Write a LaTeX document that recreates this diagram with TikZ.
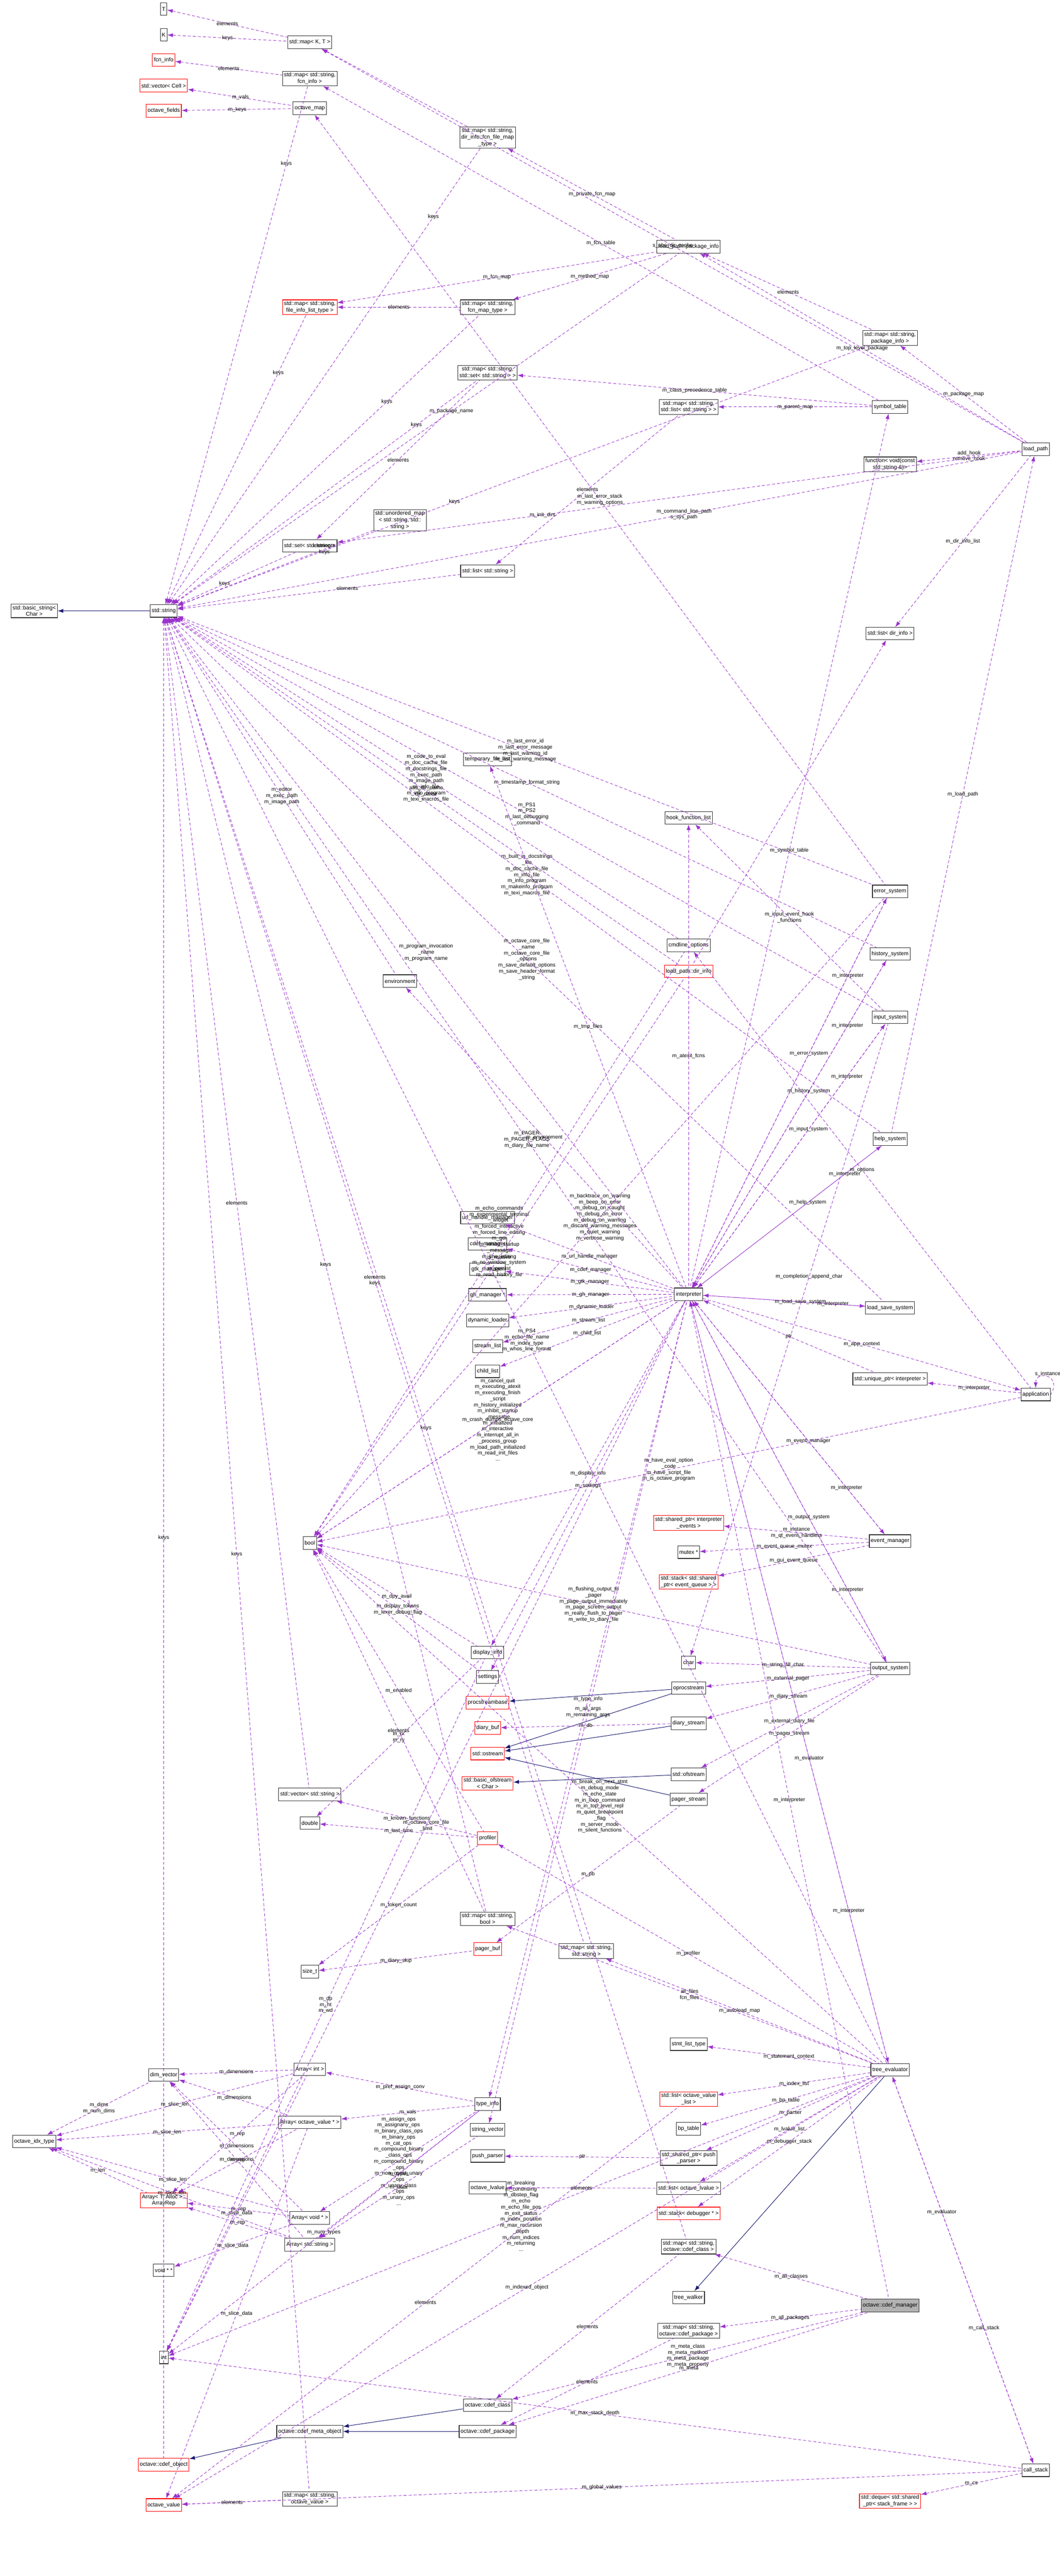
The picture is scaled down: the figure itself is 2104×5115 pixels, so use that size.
\documentclass[tikz,border=0pt]{standalone}
\usepackage{fontspec}
\setmainfont{Liberation Sans}
\usetikzlibrary{arrows.meta}
\definecolor{rel}{HTML}{9A32CD}
\definecolor{inh}{HTML}{191970}
\newcommand\myedge[4][0.5]{\draw[rel] (#2) -- node[lbl,pos=#1]{#4} (#3);}
\newcommand\myinh[2]{\draw[inh] (#1) -- (#2);}
\begin{document}
\begin{tikzpicture}[x=1pt,y=-1pt,
  box/.style={draw=black!80,line width=1.1pt,fill=white,font=\fontsize{11}{13}\selectfont,inner sep=3pt,minimum height=25pt,align=center},
  redbox/.style={box,draw=red},
  graybox/.style={box,fill=black!30},
  rel/.style={draw=rel,dash pattern=on 6pt off 4pt,line width=0.9pt,{Latex[length=11pt,width=8pt]}-},
  inh/.style={draw=inh,line width=1pt,{Latex[length=11pt,width=8pt]}-},
  lbl/.style={font=\fontsize{10.5}{12}\selectfont,align=center,inner sep=1pt}]
\useasboundingbox[fill=white] (0,0) rectangle (2104,5115);
% nodes
\node[box] (T) at (325,18) {T};
\node[box] (K) at (325,69) {K};
\node[box] (mapKT) at (615,84) {std::map< K, T >};
\node[redbox] (fcninfo) at (325,119) {fcn\_info};
\node[redbox] (vecCell) at (325,170) {std::vector< Cell >};
\node[redbox] (fields) at (325,220) {octave\_fields};
\node[box] (mapfcninfo) at (615,156) {std::map< std::string,\\fcn\_info >};
\node[box] (octmap) at (615,215) {octave\_map};
\node[box] (mapdirinfo) at (968,273) {std::map< std::string,\\dir\_info::fcn\_file\_map\\\_type >};
\node[redbox] (mapfileinfo) at (615,610) {std::map< std::string,\\file\_info\_list\_type >};
\node[box] (mapfcnmap) at (968,610) {std::map< std::string,\\fcn\_map\_type >};
\node[box] (mapset) at (968,740) {std::map< std::string,\\std::set< std::string > >};
\node[box] (unordered) at (794,1033) {std::unordered\_map\\< std::string, std::\\string >};
\node[box] (setstr) at (615,1084) {std::set< std::string >};
\node[box] (liststr) at (968,1134) {std::list< std::string >};
\node[box] (basicstr) at (68,1213) {std::basic\_string<\\Char >};
\node[box] (string) at (325,1213) {std::string};
\node[box] (pkginfo) at (1367,490) {load\_path::package\_info};
\node[box] (mappkg) at (1767,671) {std::map< std::string,\\package\_info >};
\node[box] (maplist) at (1367,808) {std::map< std::string,\\std::list< std::string > >};
\node[box] (symtab) at (1767,808) {symbol\_table};
\node[box] (loadpath) at (2056,892) {load\_path};
\node[box] (function) at (1767,922) {function< void(const\\std::string \&)>};
\node[box] (listdir) at (1767,1258) {std::list< dir\_info >};
\node[box] (tempfile) at (968,1508) {temporary\_file\_list};
\node[box] (env) at (794,1948) {environment};
\node[box] (url) at (968,2418) {url\_handle\_manager};
\node[box] (cdefmgr) at (968,2470) {cdef\_manager};
\node[box] (gtk) at (968,2520) {gtk\_manager};
\node[box] (gh) at (968,2571) {gh\_manager *};
\node[box] (dynload) at (968,2622) {dynamic\_loader};
\node[box] (streamlist) at (968,2673) {stream\_list};
\node[box] (childlist) at (968,2723) {child\_list};
\node[box] (hook) at (1367,1624) {hook\_function\_list};
\node[box] (cmdline) at (1367,1877) {cmdline\_options};
\node[redbox] (dirinfo) at (1367,1929) {load\_path::dir\_info};
\node[box] (errsys) at (1767,1770) {error\_system};
\node[box] (histsys) at (1767,1894) {history\_system};
\node[box] (inputsys) at (1767,2020) {input\_system};
\node[box] (helpsys) at (1767,2262) {help\_system};
\node[box] (interp) at (1367,2570) {interpreter};
\node[box] (loadsave) at (1767,2597) {load\_save\_system};
\node[box] (unique) at (1767,2738) {std::unique\_ptr< interpreter >};
\node[box] (app) at (2056,2769) {application};
\node[box] (bool) at (615,3064) {bool};
\node[redbox] (sharedev) at (1367,3024) {std::shared\_ptr< interpreter\\\_events >};
\node[box] (mutex) at (1367,3082) {mutex *};
\node[redbox] (stackev) at (1367,3141) {std::stack< std::shared\\\_ptr< event\_queue > >};
\node[box] (evmgr) at (1767,3060) {event\_manager};
\node[box] (char) at (1367,3301) {char};
\node[box] (outsys) at (1767,3313) {output\_system};
\node[box] (oproc) at (1367,3352) {oprocstream};
\node[box] (diarystream) at (1367,3422) {diary\_stream};
\node[box] (ofstream) at (1367,3523) {std::ofstream};
\node[box] (pagerstream) at (1367,3573) {pager\_stream};
\node[box] (dispinfo) at (968,3281) {display\_info};
\node[box] (settings) at (968,3330) {settings};
\node[redbox] (procbase) at (968,3381) {procstreambase};
\node[redbox] (diarybuf) at (968,3431) {diary\_buf};
\node[redbox] (ostream) at (968,3482) {std::ostream};
\node[redbox] (bofstream) at (968,3541) {std::basic\_ofstream\\< Char >};
\node[box] (vecstr) at (615,3563) {std::vector< std::string >};
\node[box] (double) at (615,3620) {double};
\node[redbox] (profiler) at (968,3650) {profiler};
\node[box] (mapbool) at (968,3810) {std::map< std::string,\\bool >};
\node[redbox] (pagerbuf) at (968,3870) {pager\_buf};
\node[box] (sizet) at (615,3915) {size\_t};
\node[box] (mapstrstr) at (1164,3874) {std::map< std::string,\\std::string >};
\node[box] (dimvec) at (325,4120) {dim\_vector};
\node[box] (arrint) at (615,4109) {Array< int >};
\node[box] (idx) at (68,4252) {octave\_idx\_type};
\node[box] (arrov) at (615,4214) {Array< octave\_value * >};
\node[box] (typeinfo) at (968,4178) {type\_info};
\node[box] (strvec) at (968,4229) {string\_vector};
\node[box] (pushparser) at (968,4281) {push\_parser};
\node[box] (lvalue) at (968,4344) {octave\_lvalue};
\node[redbox] (arrrep) at (325,4369) {Array< T, Alloc >::\\ArrayRep};
\node[box] (arrvoid) at (615,4404) {Array< void * >};
\node[box] (arrstr) at (615,4457) {Array< std::string >};
\node[box] (voidpp) at (325,4508) {void * *};
\node[box] (int) at (325,4681) {int};
\node[box] (cdefclass) at (968,4776) {octave::cdef\_class};
\node[box] (cdefmeta) at (615,4828) {octave::cdef\_meta\_object};
\node[box] (cdefpkg) at (968,4828) {octave::cdef\_package};
\node[redbox] (cdefobj) at (325,4894) {octave::cdef\_object};
\node[box] (mapoctval) at (615,4962) {std::map< std::string,\\octave\_value >};
\node[redbox] (octval) at (325,4974) {octave\_value};
\node[box] (stmtlist) at (1367,4059) {stmt\_list\_type};
\node[box] (treeeval) at (1767,4110) {tree\_evaluator};
\node[redbox] (listovl) at (1367,4168) {std::list< octave\_value\\\_list >};
\node[box] (bptable) at (1367,4227) {bp\_table};
\node[box] (sharedpush) at (1367,4285) {std::shared\_ptr< push\\\_parser >};
\node[box] (listlval) at (1367,4345) {std::list< octave\_lvalue >};
\node[redbox] (stackdbg) at (1367,4395) {std::stack< debugger * >};
\node[box] (mapcdefclass) at (1367,4461) {std::map< std::string,\\octave::cdef\_class >};
\node[box] (treewalker) at (1367,4562) {tree\_walker};
\node[graybox] (cdefmanager) at (1767,4578) {octave::cdef\_manager};
\node[box] (mapcdefpkg) at (1367,4628) {std::map< std::string,\\octave::cdef\_package >};
\node[box] (callstack) at (2056,4905) {call\_stack};
\node[redbox] (deque) at (1767,4966) {std::deque< std::shared\\\_ptr< stack\_frame > >};
% inheritance
\myinh{basicstr}{string}
\myinh{procbase}{oproc}
\myinh{ostream}{oproc}
\myinh{ostream}{diarystream}
\myinh{ostream}{pagerstream}
\myinh{bofstream}{ofstream}
\myinh{treewalker}{treeeval}
\myinh{cdefmeta}{cdefclass}
\myinh{cdefmeta}{cdefpkg}
\myinh{cdefobj}{cdefmeta}
% relations
\myedge{T}{mapKT}{elements}
\myedge{K}{mapKT}{keys}
\myedge{fcninfo}{mapfcninfo}{elements}
\myedge{vecCell}{octmap}{m\_vals}
\myedge{fields}{octmap}{m\_keys}
\myedge[0.85]{string}{mapfcninfo}{keys}
\myedge{mapKT}{mapdirinfo}{}
\myedge[0.85]{string}{mapdirinfo}{keys}
\myedge{mapfileinfo}{mapfcnmap}{elements}
\myedge[0.8]{string}{mapfileinfo}{keys}
\myedge[0.7]{string}{mapfcnmap}{keys}
\myedge[0.8]{string}{mapset}{keys}
\myedge{setstr}{mapset}{elements}
\myedge[0.75]{string}{unordered}{elements\\keys}
\myedge[0.4]{string}{setstr}{keys}
\myedge[0.6]{string}{liststr}{elements}
\myedge[0.55]{string}{pkginfo}{m\_package\_name}
\myedge{mapfileinfo}{pkginfo}{m\_fcn\_map}
\myedge{mapdirinfo}{pkginfo}{m\_private\_fcn\_map}
\myedge{mapfcnmap}{pkginfo}{m\_method\_map}
\myedge{mapKT}{loadpath}{s\_abs\_dir\_cache}
\myedge[0.6]{string}{loadpath}{m\_command\_line\_path\\s\_sys\_path}
\myedge{pkginfo}{loadpath}{m\_top\_level\_package}
\myedge{mappkg}{loadpath}{m\_package\_map}
\myedge{function}{loadpath}{add\_hook\\remove\_hook}
\myedge{listdir}{loadpath}{m\_dir\_info\_list}
\myedge[0.3]{setstr}{loadpath}{m\_init\_dirs}
\myedge{pkginfo}{mappkg}{elements}
\myedge[0.4]{string}{mappkg}{keys}
\myedge{maplist}{symtab}{m\_parent\_map}
\myedge{mapset}{symtab}{m\_class\_precedence\_table}
\myedge{mapfcninfo}{symtab}{m\_fcn\_table}
\myedge{liststr}{maplist}{elements}
\myedge{octmap}{errsys}{m\_last\_error\_stack\\m\_warning\_options}
\myedge{string}{errsys}{m\_last\_error\_id\\m\_last\_error\_message\\m\_last\_warning\_id\\m\_last\_warning\_message}
\myedge{bool}{errsys}{m\_backtrace\_on\_warning\\m\_beep\_on\_error\\m\_debug\_on\_caught\\m\_debug\_on\_error\\m\_debug\_on\_warning\\m\_discard\_warning\_messages\\m\_quiet\_warning\\m\_verbose\_warning}
\myedge[0.8]{interp}{errsys}{m\_interpreter}
\myedge[0.4]{errsys}{interp}{m\_error\_system}
\myedge{string}{histsys}{m\_timestamp\_format\_string}
\myedge[0.8]{interp}{histsys}{m\_interpreter}
\myedge[0.4]{histsys}{interp}{m\_history\_system}
\myedge{string}{inputsys}{m\_PS1\\m\_PS2\\m\_last\_debugging\\\_command}
\myedge{hook}{inputsys}{m\_input\_event\_hook\\\_functions}
\myedge[0.8]{interp}{inputsys}{m\_interpreter}
\myedge[0.4]{inputsys}{interp}{m\_input\_system}
\myedge[0.6]{char}{inputsys}{m\_completion\_append\_char}
\myedge{string}{helpsys}{m\_built\_in\_docstrings\\\_file\\m\_doc\_cache\_file\\m\_info\_file\\m\_info\_program\\m\_makeinfo\_program\\m\_texi\_macros\_file}
\myedge[0.8]{interp}{helpsys}{m\_interpreter}
\myedge[0.4]{helpsys}{interp}{m\_help\_system}
\myedge{loadpath}{helpsys}{m\_load\_path}
\myedge{string}{loadsave}{m\_octave\_core\_file\\\_name\\m\_octave\_core\_file\\\_options\\m\_save\_default\_options\\m\_save\_header\_format\\\_string}
\myedge[0.8]{interp}{loadsave}{m\_interpreter}
\myedge[0.4]{loadsave}{interp}{m\_load\_save\_system}
\myedge{string}{cmdline}{m\_code\_to\_eval\\m\_doc\_cache\_file\\m\_docstrings\_file\\m\_exec\_path\\m\_image\_path\\m\_info\_file\\m\_info\_program\\m\_texi\_macros\_file}
\myedge{bool}{cmdline}{m\_echo\_commands\\m\_experimental\_terminal\\\_widget\\m\_forced\_interactive\\m\_forced\_line\_editing\\m\_gui\\m\_inhibit\_startup\\\_message\\m\_line\_editing\\m\_no\_window\_system\\m\_persist\\m\_read\_history\_file\\...}
\myedge{cmdline}{app}{m\_options}
\myedge{string}{dirinfo}{abs\_dir\_name\\dir\_name}
\myedge{bool}{dirinfo}{is\_relative}
\myedge{listdir}{dirinfo}{}
\myedge{string}{env}{m\_editor\\m\_exec\_path\\m\_image\_path}
\myedge{env}{interp}{m\_environment}
\myedge{tempfile}{interp}{m\_tmp\_files}
\myedge{hook}{interp}{m\_atexit\_fcns}
\myedge{symtab}{interp}{m\_symbol\_table}
\myedge{string}{interp}{m\_program\_invocation\\\_name\\m\_program\_name}
\myedge{url}{interp}{m\_url\_handle\_manager}
\myedge{cdefmgr}{interp}{m\_cdef\_manager}
\myedge{gtk}{interp}{m\_gtk\_manager}
\myedge{gh}{interp}{m\_gh\_manager}
\myedge{dynload}{interp}{m\_dynamic\_loader}
\myedge{streamlist}{interp}{m\_stream\_list}
\myedge{childlist}{interp}{m\_child\_list}
\myedge{bool}{interp}{m\_cancel\_quit\\m\_executing\_atexit\\m\_executing\_finish\\\_script\\m\_history\_initialized\\m\_inhibit\_startup\\\_message\\m\_initialized\\m\_interactive\\m\_interrupt\_all\_in\\\_process\_group\\m\_load\_path\_initialized\\m\_read\_init\_files\\...}
\myedge{interp}{unique}{ptr}
\myedge{unique}{app}{m\_interpreter}
\myedge{app}{interp}{m\_app\_context}
\draw[rel] (app.north) .. controls (2056,2720) and (2110,2730) .. node[lbl,above]{s\_instance} (app.east);
\myedge{bool}{app}{m\_have\_eval\_option\\\_code\\m\_have\_script\_file\\m\_is\_octave\_program}
\myedge[0.4]{evmgr}{interp}{m\_event\_manager}
\myedge[0.8]{interp}{evmgr}{m\_interpreter}
\myedge{sharedev}{evmgr}{m\_instance\\m\_qt\_event\_handlers}
\myedge{mutex}{evmgr}{m\_event\_queue\_mutex}
\myedge{stackev}{evmgr}{m\_gui\_event\_queue}
\myedge[0.4]{outsys}{interp}{m\_output\_system}
\myedge[0.8]{interp}{outsys}{m\_interpreter}
\myedge{oproc}{outsys}{m\_external\_pager}
\myedge{diarystream}{outsys}{m\_diary\_stream}
\myedge{ofstream}{outsys}{m\_external\_diary\_file}
\myedge{char}{outsys}{m\_string\_fill\_char}
\myedge{pagerstream}{outsys}{m\_pager\_stream}
\myedge{bool}{outsys}{m\_flushing\_output\_to\\\_pager\\m\_page\_output\_immediately\\m\_page\_screen\_output\\m\_really\_flush\_to\_pager\\m\_write\_to\_diary\_file}
\myedge{string}{outsys}{m\_PAGER\\m\_PAGER\_FLAGS\\m\_diary\_file\_name}
\myedge{diarybuf}{diarystream}{m\_db}
\myedge{pagerbuf}{pagerstream}{m\_pb}
\myedge{dispinfo}{interp}{m\_display\_info}
\myedge{bool}{dispinfo}{m\_dpy\_avail}
\myedge{double}{dispinfo}{m\_rx\\m\_ry}
\myedge{settings}{interp}{m\_settings}
\myedge{bool}{settings}{m\_display\_tokens\\m\_lexer\_debug\_flag}
\myedge{typeinfo}{interp}{m\_type\_info}
\myedge{strvec}{interp}{m\_all\_args\\m\_remaining\_args}
\myedge[0.4]{treeeval}{interp}{m\_evaluator}
\myedge[0.8]{interp}{treeeval}{m\_interpreter}
\myedge{bool}{interp}{m\_crash\_dumps\_octave\_core}
\myedge{int}{interp}{m\_octave\_core\_file\\\_limit}
\myedge{vecstr}{profiler}{m\_known\_functions}
\myedge{double}{profiler}{m\_last\_time}
\myedge{bool}{profiler}{m\_enabled}
\myedge{sizet}{profiler}{m\_token\_count}
\myedge{string}{vecstr}{elements}
\myedge{string}{mapbool}{keys}
\myedge{bool}{mapbool}{elements}
\myedge{string}{mapstrstr}{elements\\keys}
\myedge{sizet}{pagerbuf}{m\_diary\_skip}
\myedge{profiler}{treeeval}{m\_profiler}
\myedge{mapstrstr}{treeeval}{m\_autoload\_map}
\myedge{bool}{treeeval}{m\_break\_on\_next\_stmt\\m\_debug\_mode\\m\_echo\_state\\m\_in\_loop\_command\\m\_in\_top\_level\_repl\\m\_quiet\_breakpoint\\\_flag\\m\_server\_mode\\m\_silent\_functions}
\myedge{string}{treeeval}{m\_PS4\\m\_echo\_file\_name\\m\_index\_type\\m\_whos\_line\_format}
\myedge{mapbool}{treeeval}{all\_files\\fcn\_files}
\myedge{stmtlist}{treeeval}{m\_statement\_context}
\myedge{listovl}{treeeval}{m\_index\_list}
\myedge{bptable}{treeeval}{m\_bp\_table}
\myedge{sharedpush}{treeeval}{m\_parser}
\myedge{listlval}{treeeval}{m\_lvalue\_list}
\myedge{stackdbg}{treeeval}{m\_debugger\_stack}
\myedge{int}{treeeval}{m\_breaking\\m\_continuing\\m\_dbstep\_flag\\m\_echo\\m\_echo\_file\_pos\\m\_exit\_status\\m\_index\_position\\m\_max\_recursion\\\_depth\\m\_num\_indices\\m\_returning\\...}
\myedge{octval}{treeeval}{m\_indexed\_object}
\myedge{pushparser}{sharedpush}{ptr}
\myedge{lvalue}{listlval}{elements}
\myedge[0.35]{callstack}{treeeval}{m\_call\_stack}
\myedge[0.35]{treeeval}{callstack}{m\_evaluator}
\myedge{deque}{callstack}{m\_cs}
\myedge{octval}{callstack}{m\_global\_values}
\myedge{int}{callstack}{m\_max\_stack\_depth}
\myedge{mapcdefclass}{cdefmanager}{m\_all\_classes}
\myedge{mapcdefpkg}{cdefmanager}{m\_all\_packages}
\myedge{cdefclass}{cdefmanager}{m\_meta\_class\\m\_meta\_method\\m\_meta\_package\\m\_meta\_property}
\myedge{cdefpkg}{cdefmanager}{m\_meta}
\myedge{interp}{cdefmanager}{m\_interpreter}
\myedge{cdefclass}{mapcdefclass}{elements}
\myedge{cdefpkg}{mapcdefpkg}{elements}
\myedge{string}{mapcdefclass}{keys}
\myedge{octval}{mapoctval}{elements}
\myedge{string}{mapoctval}{keys}
\myedge{octval}{listovl}{elements}
\myedge{arrint}{typeinfo}{m\_pref\_assign\_conv}
\myedge{arrov}{typeinfo}{m\_vals}
\myedge{arrvoid}{typeinfo}{m\_assign\_ops\\m\_assignany\_ops\\m\_binary\_class\_ops\\m\_binary\_ops\\m\_cat\_ops\\m\_compound\_binary\\\_class\_ops\\m\_compound\_binary\\\_ops\\m\_non\_const\_unary\\\_ops\\m\_unary\_class\\\_ops\\m\_unary\_ops\\...}
\myedge{arrstr}{typeinfo}{m\_types}
\myedge{int}{typeinfo}{m\_num\_types}
\myedge{arrstr}{strvec}{m\_data}
\myedge{dimvec}{arrint}{m\_dimensions}
\myedge{dimvec}{arrov}{m\_dimensions}
\myedge{dimvec}{arrvoid}{m\_dimensions}
\myedge{dimvec}{arrstr}{m\_dimensions}
\myedge{arrrep}{arrint}{m\_rep}
\myedge{arrrep}{arrov}{m\_rep}
\myedge{arrrep}{arrvoid}{m\_rep}
\myedge{arrrep}{arrstr}{m\_rep}
\myedge{idx}{arrint}{m\_slice\_len}
\myedge{idx}{arrov}{m\_slice\_len}
\myedge{idx}{arrvoid}{m\_slice\_len}
\myedge{idx}{arrstr}{m\_slice\_len}
\myedge{int}{arrint}{m\_slice\_data}
\myedge{voidpp}{arrvoid}{m\_slice\_data}
\myedge{octval}{arrov}{m\_slice\_data}
\myedge{idx}{dimvec}{m\_dims\\m\_num\_dims}
\myedge{idx}{arrrep}{m\_len}
\myedge{int}{dispinfo}{m\_dp\\m\_ht\\m\_wd}
\myedge{string}{cdefobj}{keys}
\end{tikzpicture}
\end{document}
